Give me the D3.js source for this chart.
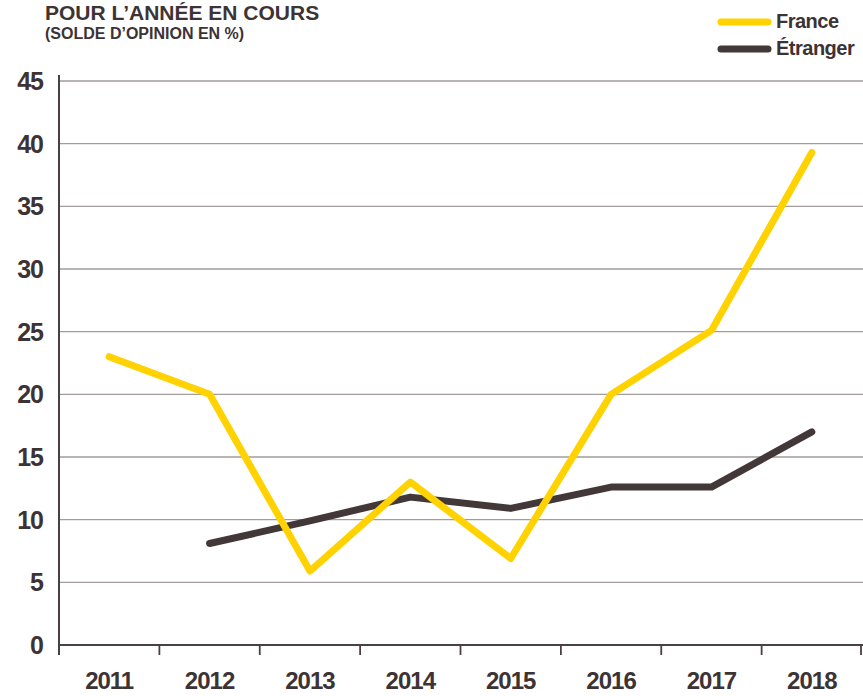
<!DOCTYPE html>
<html>
<head>
<meta charset="utf-8">
<script src="https://cdn.jsdelivr.net/npm/d3@7"></script>
<style>
  body { margin: 0; background: #fff; }
  text { font-family: "Liberation Sans", Arial, sans-serif; font-weight: bold; fill: #3d3335; }
</style>
</head>
<body>
<div id="chart"></div>
<script>
// data
var years = ["2011", "2012", "2013", "2014", "2015", "2016", "2017", "2018"];
var france = [23, 20, 5.9, 13, 6.9, 20, 25.1, 39.3];
var etranger = [null, 8.1, 9.9, 11.8, 10.9, 12.6, 12.6, 17];
var yTicks = [0, 5, 10, 15, 20, 25, 30, 35, 40, 45];

var W = 863, H = 696;
var margin = {top: 81, right: 1, bottom: 51, left: 59};

var svg = d3.select("#chart").append("svg")
  .attr("width", W).attr("height", H);

var x = d3.scaleBand().domain(years).range([margin.left, W - margin.right]);
var y = d3.scaleLinear().domain([0, 45]).range([H - margin.bottom, margin.top]);

// gridlines
svg.append("g").selectAll("line")
  .data(yTicks.filter(function(d) { return d > 0; }))
  .enter().append("line")
    .attr("x1", margin.left).attr("x2", W)
    .attr("y1", function(d) { return y(d); })
    .attr("y2", function(d) { return y(d); })
    .attr("stroke", "#a39c9d").attr("stroke-width", 1.3);

// y labels
svg.append("g").selectAll("text")
  .data(yTicks)
  .enter().append("text")
    .attr("x", 43)
    .attr("y", function(d) { return y(d) + 9; })
    .attr("text-anchor", "end")
    .style("font-size", "25px")
    .style("letter-spacing", "-1px")
    .text(function(d) { return d; });

// y axis line
svg.append("line")
  .attr("x1", margin.left).attr("x2", margin.left)
  .attr("y1", y(45) - 6).attr("y2", y(0) + 10)
  .attr("stroke", "#4a3f41").attr("stroke-width", 2);

// x axis
var xAxis = svg.append("g")
  .attr("transform", "translate(0," + y(0) + ")");
xAxis.append("line")
  .attr("x1", margin.left).attr("x2", W)
  .attr("stroke", "#4a3f41").attr("stroke-width", 2);
var tickPos = years.map(function(d) { return x(d); }).concat([x.range()[1] - 1]);
xAxis.selectAll(".tk").data(tickPos).enter().append("line")
  .attr("x1", function(d) { return d; }).attr("x2", function(d) { return d; })
  .attr("y1", 0).attr("y2", 10)
  .attr("stroke", "#4a3f41").attr("stroke-width", 1.8);
xAxis.selectAll(".lb").data(years).enter().append("text")
  .attr("x", function(d) { return x(d) + x.bandwidth() / 2; })
  .attr("y", 44)
  .attr("text-anchor", "middle")
  .style("font-size", "24px")
  .style("letter-spacing", "-1px")
  .text(function(d) { return d; });

// lines
var line = d3.line()
  .defined(function(d) { return d != null; })
  .x(function(d, i) { return x(years[i]) + x.bandwidth() / 2; })
  .y(function(d) { return y(d); });

svg.append("path").datum(etranger)
  .attr("d", line).attr("fill", "none")
  .attr("stroke", "#433838").attr("stroke-width", 7)
  .attr("stroke-linecap", "round").attr("stroke-linejoin", "round");

svg.append("path").datum(france)
  .attr("d", line).attr("fill", "none")
  .attr("stroke", "#ffd200").attr("stroke-width", 7)
  .attr("stroke-linecap", "round").attr("stroke-linejoin", "round");

// title (pulled down a bit so it is not cropped)
svg.append("text").attr("x", 45).attr("y", 20)
  .style("font-size", "21px").text("POUR L’ANNÉE EN COURS");
svg.append("text").attr("x", 45).attr("y", 39)
  .style("font-size", "16px")
  .text("(SOLDE D’OPINION EN %)");

// legend
var legend = [{name: "France", color: "#ffd200"}, {name: "Étranger", color: "#433838"}];
var lg = svg.append("g").selectAll("g").data(legend).enter().append("g")
  .attr("transform", function(d, i) { return "translate(0," + (22 + i * 27) + ")"; });
lg.append("line")
  .attr("x1", 721).attr("x2", 768)
  .attr("stroke", function(d) { return d.color; })
  .attr("stroke-width", 7).attr("stroke-linecap", "round");
lg.append("text").attr("x", 776).attr("y", 6)
  .style("font-size", "20px").style("letter-spacing", "-0.5px")
  .text(function(d) { return d.name; });
</script>
</body>
</html>
